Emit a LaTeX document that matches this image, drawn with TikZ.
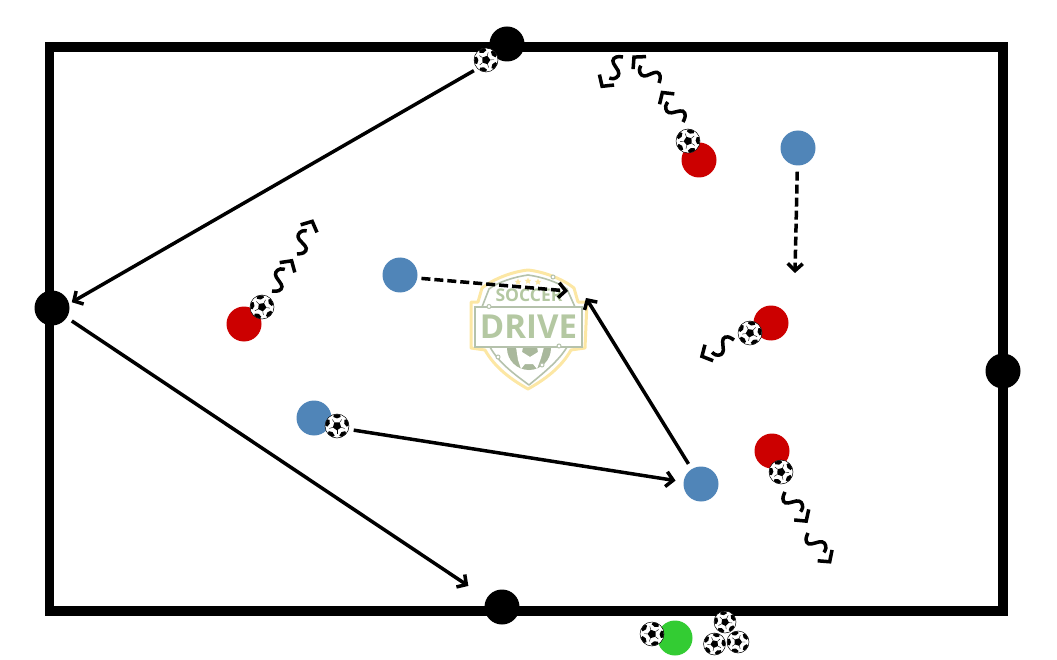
\documentclass[tikz,border=0pt]{standalone}
\usepackage{fontspec}
\setmainfont{Open Sans}
\usetikzlibrary{arrows.meta,calc,shapes.geometric}
\definecolor{pred}{HTML}{CC0000}
\definecolor{pblue}{HTML}{5085B8}
\definecolor{pgreen}{HTML}{33CC33}
\definecolor{lgreen}{HTML}{B4C8A2}
\definecolor{lgrey}{HTML}{B5C2AC}
\definecolor{lball}{HTML}{A9B89C}
\definecolor{lyellow}{HTML}{FCE7A4}
\tikzset{
  player/.style={circle,inner sep=0pt,minimum size=35pt,fill=#1,draw=none},
  cone/.style={circle,inner sep=0pt,minimum size=35pt,fill=black,draw=none},
  ballnode/.style={circle,inner sep=0pt,minimum size=#1,fill=white,draw=black,line width=.5pt},
  pass/.style={line width=3.5pt,-{Straight Barb[length=7pt,width=15pt,line width=3.5pt]}},
  run/.style={pass,dash pattern=on 9pt off 4pt},
  squigline/.style={line width=3.5pt,black},
  logostar/.style={star,star points=5,star point ratio=2.2,fill=lyellow,inner sep=0pt,minimum size=7pt},
  logodot/.style={circle,inner sep=0pt,minimum size=4pt,fill=white,draw=lgrey,line width=1pt},
  squiggle/.pic={
    \draw[squigline] plot[smooth,tension=.75] coordinates {(0,0) (4,5.5) (9,6) (12,1) (14,-4) (18,-7) (23,-5) (25,-1)};
    \draw[squigline,miter limit=10] (28,-9) -- (36,0) -- (28,9);
  },
  ballmark/.pic={
    \fill (90:4.4) -- (162:4.4) -- (234:4.4) -- (306:4.4) -- (18:4.4) -- cycle;
    \foreach \a in {18,90,162,234,306}{
      \draw[line width=.4pt] (\a:4.4) -- (\a:8);
      \begin{scope}[rotate=\a]
        \fill (7.6,0) -- (9,-3.6) -- (11.2,-3.2) .. controls (12,-1.2) and (12,1.2) .. (11.2,3.2) -- (9,3.6) -- cycle;
      \end{scope}
    }
  },
  logotext/.style={text=lgreen,inner sep=0pt}
}
\newcommand{\ball}[5]{%
  \node[ballnode=#5pt] (#1) at (#2,#3) {};
  \pic[rotate=#4,scale=#5/24] at (#1) {ballmark};
}
\newcommand{\squig}[3]{\pic[rotate=#3] at (#1,#2) {squiggle};}
\begin{document}
\begin{tikzpicture}[x=1pt,y=-1pt]
\useasboundingbox (0,0) rectangle (1057,660);
% logo
\draw[lyellow,line width=3pt,fill=white,line join=round]
  (528,270) .. controls (510,272) and (492,280) .. (482,288) -- (478,302) -- (471,302) -- (471,348) -- (485,350)
  .. controls (495,368) and (512,380) .. (528,389)
  .. controls (544,380) and (561,368) .. (571,350) -- (585,348) -- (587,302) -- (578,302) -- (574,288)
  .. controls (564,280) and (546,272) .. (528,270) -- cycle;
\draw[lgrey,line width=1.6pt,line join=round]
  (528,275) .. controls (514,277) and (498,282) .. (489,289) -- (482,307)
  (528,275) .. controls (542,277) and (558,282) .. (567,289) -- (575,307)
  (490,347) .. controls (498,362) and (514,374) .. (529,385)
  .. controls (542,374) and (558,362) .. (567,347);
\fill[lball] (529,348) circle[radius=22pt];
\fill[white] (516,347) -- (523,347) -- (522,352) -- (530,357) -- (538,352) -- (537,347) -- (544,347)
  -- (541,358) -- (537,369) -- (533,364) -- (525,364) -- (521,369) -- (518,360) -- cycle;
\draw[lgrey,line width=1.6pt,fill=white] (475,307) rectangle (582,347);
\node[logotext,font=\fontsize{33}{33}\bfseries] (logodrive) at (528.5,327) {DRIVE};
\node[logotext,font=\fontsize{17.5}{18}\bfseries] (logosoccer) at (529,295.5) {SOCCER};
\node[logostar] (starA) at (518,282) {};
\node[logostar] (starB) at (528,281) {};
\node[logostar] (starC) at (538,282) {};
\node[logodot] (dotA) at (553,277) {};
\node[logodot] (dotB) at (489,306.5) {};
\node[logodot] (dotC) at (559,346) {};
\node[logodot] (dotD) at (498,357) {};
\node[logodot] (dotE) at (542,365) {};
% field
\draw[line width=9.5pt,miter limit=10] (49.5,47) rectangle (1003,611);
% cones
\node[cone] (coneT) at (507,44) {};
\node[cone] (coneL) at (52,308) {};
\node[cone] (coneR) at (1003,371) {};
\node[cone] (coneB) at (502,607) {};
% players
\node[player=pred] (redA) at (699,160) {};
\node[player=pred] (redB) at (244,324) {};
\node[player=pred] (redC) at (771,323) {};
\node[player=pred] (redD) at (772,451) {};
\node[player=pblue] (blueA) at (798,148) {};
\node[player=pblue] (blueB) at (400,275) {};
\node[player=pblue] (blueC) at (314,418) {};
\node[player=pblue] (blueD) at (701,484) {};
\node[player=pgreen] (greenA) at (675,638) {};
% balls
\ball{ballA}{486}{60}{20}{24}
\ball{ballB}{688}{141}{-15}{24}
\ball{ballC}{262}{307}{10}{24}
\ball{ballD}{750}{333}{-10}{24}
\ball{ballE}{781}{472}{15}{24}
\ball{ballF}{337}{426}{0}{24}
\ball{ballG}{652}{634}{-20}{24}
\ball{ballH}{725}{622}{10}{22}
\ball{ballI}{714.5}{644}{-12}{22}
\ball{ballJ}{738}{642}{18}{22}
% free ends
\coordinate (tipA) at (586,298);
\coordinate (tipB) at (568,291);
\coordinate (tipC) at (795,273);
% passes
\draw[pass,shorten <=4pt,shorten >=3pt] (ballA.225) -- (coneL.14);
\draw[pass,shorten <=6pt,shorten >=22pt] (coneL.-33) -- (coneB.150);
\draw[pass,shorten <=5pt,shorten >=8pt] (ballF.-16) -- (blueD.173);
\draw[pass,shorten <=6pt] (blueD.122) -- (tipA);
\draw[run,shorten <=4pt] (blueB.-10) -- (tipB);
\draw[run,shorten <=6pt] (blueA.-92) -- (tipC);
% dribbles
\squig{623}{57}{-125.5}
\squig{659}{83}{134}
\squig{683}{122}{125}
\squig{785}{492}{-54}
\squig{808}{533}{-53}
\squig{272}{291}{57}
\squig{297}{254}{65}
\squig{734}{340}{-153}
\end{tikzpicture}
\end{document}
